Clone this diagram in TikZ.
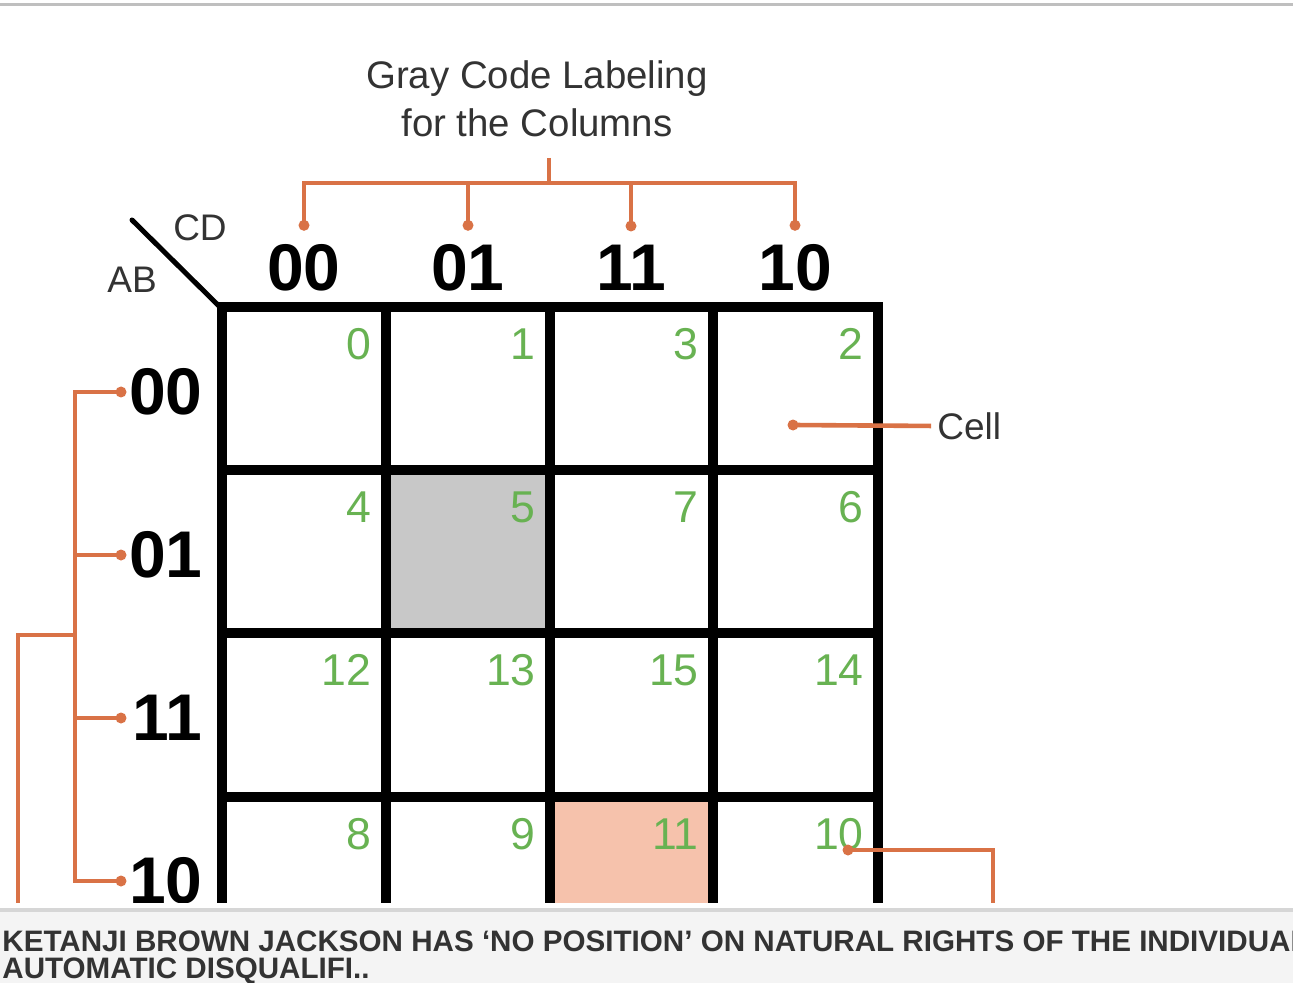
\documentclass[tikz,border=0pt]{standalone}
\usepackage{fontspec}
\setmainfont{Liberation Sans}
\usetikzlibrary{positioning,calc}
\definecolor{korange}{RGB}{217,114,70}
\definecolor{kgreen}{RGB}{104,178,82}
\definecolor{kgray}{RGB}{200,200,200}
\definecolor{ksalmon}{RGB}{246,194,172}
\definecolor{kdark}{RGB}{51,51,51}
\definecolor{kband}{RGB}{244,244,244}
\definecolor{kedge}{RGB}{214,214,214}
\tikzset{
  kline/.style ={draw=black, line width=5pt, line cap=rect},
  ol/.style    ={draw=korange, line width=2.3pt},
  odot/.style  ={circle, fill=korange, inner sep=0pt, minimum size=5.5pt},
  hdr/.style   ={align=center, inner sep=0pt, text=kdark, font=\fontsize{19.2}{24}\selectfont},
  lbl/.style   ={inner sep=0pt, text=kdark, font=\fontsize{18.5}{22}\selectfont},
  bit/.style   ={inner sep=0pt, font=\fontsize{33}{40}\selectfont\bfseries},
  num/.style   ={anchor=north east, inner sep=0pt, text=kgreen, font=\fontsize{22.3}{26}\selectfont},
  band/.style  ={anchor=base west, inner sep=0pt, text=kdark, font=\fontsize{14.8}{17}\selectfont\bfseries}
}
\begin{document}
\begin{tikzpicture}[x=0.5pt, y=-0.5pt]
\useasboundingbox (0,0) rectangle (1293,983);
\fill[white] (0,0) rectangle (1293,983);
\draw[line width=1.5pt, draw=black!25] (0,4.5) -- (1293,4.5);

% shaded cells
\fill[kgray] (386,470) rectangle (550,633);
\fill[ksalmon] (550,797) rectangle (713,915);

% map grid
\foreach \y in {307,470,633,797} \draw[kline] (222,\y) -- (878,\y);
\foreach \x in {222,386,550,713,878} \draw[kline] (\x,307) -- (\x,915);
\draw[line width=2.5pt, line cap=round] (132,220) -- (220,307);

\node[hdr] (title) at (537,99) {Gray Code Labeling\\for the Columns};
\node[lbl] (cd) at (200,228) {CD};
\node[lbl] (ab) at (132,280) {AB};

\foreach \x/\b in {304/00,468/01,631/11,795/10}
  \node[bit] (col\b) at (\x,268) {\b};
\foreach \y/\b in {392/00,555/01,718/11,881/10}
  \node[bit, anchor=east] (row\b) at (203,\y) {\b};

\foreach \n/\x/\y in {0/372/328,1/536/328,3/699/328,2/864/328,
                      4/372/491,5/536/491,7/699/491,6/864/491,
                      12/372/654,13/536/654,15/699/654,14/864/654,
                      8/372/818,9/536/818,11/699/818,10/864/818}
  \node[num] (n\n) at (\x,\y) {\n};

% column bracket
\coordinate (tj) at (549,183);
\coordinate (tt) at (549,158);
\foreach \b in {00,01,11,10}
  \node[odot, above=6.5pt of col\b] (tdot\b) {};
\draw[ol] (tdot00.center) |- (tj) -| (tdot10.center);
\draw[ol] (tdot01.center) -- (tdot01 |- tj);
\draw[ol] (tdot11.center) -- (tdot11 |- tj);
\draw[ol] (tt) -- (tj);

% row bracket
\foreach \y/\b in {392/00,555/01,718/11,881/10}
  \node[odot] (ldot\b) at (121,\y) {};
\coordinate (lj) at (75,635);
\coordinate (lb) at (18,990);
\draw[ol] (ldot00.center) -| (lj) |- (ldot10.center);
\draw[ol] (ldot01.center) -- (ldot01 -| lj);
\draw[ol] (ldot11.center) -- (ldot11 -| lj);
\draw[ol] (lj) -| (lb);

% cell callouts
\node[odot] (cdot) at (793,425) {};
\node[lbl, anchor=west] (cell) at (937,426) {Cell};
\draw[ol, shorten >=3pt] (cdot.center) -- (cell.west);
\node[odot] (bdot) at (848,850) {};
\coordinate (bb) at (993,990);
\draw[ol] (bdot.center) -| (bb);

% caption strip
\fill[white] (0,903) rectangle (1293,983);
\fill[kband] (0,908) rectangle (1293,983);
\draw[line width=2pt, draw=kedge] (0,910) -- (1293,910);
\node[band] (ban1) at (2,951) {KETANJI BROWN JACKSON HAS ‘NO POSITION’ ON NATURAL RIGHTS OF THE INDIVIDUAL};
\node[band] (ban2) at (2,978) {AUTOMATIC DISQUALIFI..};
\end{tikzpicture}
\end{document}
